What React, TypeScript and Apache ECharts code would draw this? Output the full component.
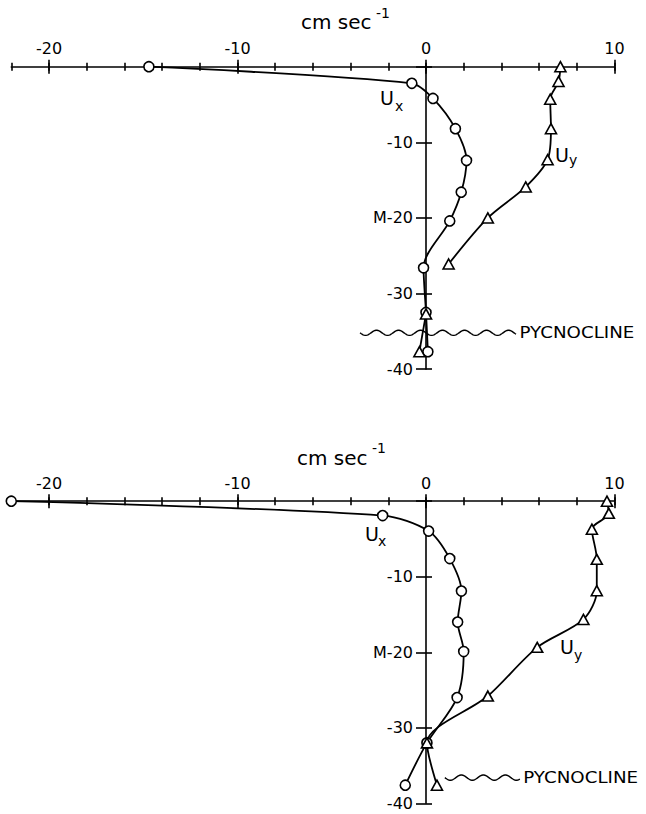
import React, { useEffect, useRef } from "react";
import * as echarts from "echarts";

// ---- data (x = velocity in cm/sec, y = depth in m) ----
const xMin = -22;
const xMax = 10;
const depthMin = -40;
const depthMax = 0;
const xMajorTicks = [-20, -10, 0, 10];

const topUx = [
  [-14.7, 0], [-0.75, -2.2], [0.37, -4.2], [1.56, -8.2], [2.15, -12.4],
  [1.87, -16.6], [1.26, -20.4], [-0.13, -26.6], [0.0, -32.5], [0.1, -37.7],
];
const topUy = [
  [7.13, 0], [7.03, -1.95], [6.59, -4.3], [6.63, -8.2], [6.45, -12.3],
  [5.29, -15.9], [3.28, -20.0], [1.2, -26.1],
];
const topUyDeep = [[0.0, -32.7], [-0.35, -37.7]];
const bottomUx = [
  [-22.0, 0], [-2.3, -1.9], [0.14, -3.95], [1.26, -7.6], [1.88, -11.9],
  [1.68, -16.0], [2.0, -19.9], [1.65, -26.0], [0.05, -32.0], [-1.1, -37.6],
];
const bottomUy = [
  [9.6, 0], [9.7, -1.6], [8.8, -3.7], [9.06, -7.7], [9.06, -11.85],
  [8.35, -15.65], [5.9, -19.35], [3.28, -25.8], [0.05, -32.0], [0.58, -37.6],
];
// [x start, x end, depth]
const topPycnocline = [[-3.5, 4.8, -35.2]];
const bottomPycnocline = [[1.0, 5.0, -36.6]];

const FONT = "DejaVu Sans";
const BLACK = "#000";

const GRID_LEFT = 11.3;
const GRID_WIDTH = 603.2;
// pixel distance from grid's left edge to the x = 0 line (where the depth axis sits)
const ZERO_OFFSET = ((0 - xMin) / (xMax - xMin)) * GRID_WIDTH;

function xAxesFor(gridIndex: number) {
  const base: any = {
    type: "value",
    gridIndex,
    min: xMin,
    max: xMax,
    interval: 2,
    position: "top",
    splitLine: { show: false },
  };
  const line = { color: BLACK, width: 1.6 };
  return [
    {
      ...base,
      axisLine: { show: true, onZero: false, lineStyle: line },
      axisTick: { show: true, inside: false, length: 4, lineStyle: line },
      axisLabel: { show: false },
    },
    {
      ...base,
      axisLine: { show: false, onZero: false },
      axisTick: { show: true, inside: true, length: 4, lineStyle: line },
      axisLabel: { show: false },
    },
    {
      ...base,
      axisLine: { show: false, onZero: false },
      axisTick: { show: true, inside: false, length: 7, customValues: xMajorTicks, lineStyle: line },
      axisLabel: {
        show: true,
        customValues: xMajorTicks,
        margin: 10,
        color: BLACK,
        fontFamily: FONT,
        fontSize: 16,
        formatter: (v: number) => (v < 0 ? "-" + Math.abs(v) : String(v)),
      },
    },
    {
      ...base,
      axisLine: { show: false, onZero: false },
      axisTick: { show: true, inside: true, length: 7, customValues: xMajorTicks, lineStyle: line },
      axisLabel: { show: false },
    },
  ];
}

function yAxesFor(gridIndex: number) {
  const base: any = {
    type: "value",
    gridIndex,
    min: depthMin,
    max: depthMax,
    interval: 10,
    position: "left",
    offset: -ZERO_OFFSET,
    splitLine: { show: false },
  };
  const line = { color: BLACK, width: 1.6 };
  return [
    {
      ...base,
      axisLine: { show: true, onZero: false, lineStyle: line },
      axisTick: { show: true, inside: false, length: 10, lineStyle: line },
      axisLabel: {
        show: true,
        margin: 13,
        color: BLACK,
        fontFamily: FONT,
        fontSize: 16,
        formatter: (v: number) =>
          v === 0 ? "" : v === -20 ? "M-20" : "-" + Math.abs(v),
      },
    },
    {
      ...base,
      axisLine: { show: false, onZero: false },
      axisTick: { show: true, inside: true, length: 6, lineStyle: line },
      axisLabel: { show: false },
    },
  ];
}

function lineSeries(data: number[][], xi: number, yi: number, symbol: string, size: any) {
  return {
    type: "line",
    xAxisIndex: xi,
    yAxisIndex: yi,
    data,
    smooth: 0.3,
    symbol,
    symbolSize: size,
    showAllSymbol: true,
    clip: false,
    lineStyle: { color: BLACK, width: 1.8 },
    itemStyle: { color: "#fff", borderColor: BLACK, borderWidth: 1.6 },
    z: 3,
  };
}

function pycnoclineSeries(data: number[][], xi: number, yi: number) {
  return {
    type: "custom",
    xAxisIndex: xi,
    yAxisIndex: yi,
    data,
    encode: { x: [0, 1], y: 2 },
    z: 2,
    renderItem: (_params: any, api: any) => {
      const p0 = api.coord([api.value(0), api.value(2)]);
      const p1 = api.coord([api.value(1), api.value(2)]);
      const pts: number[][] = [];
      const lambda = 22;
      const amp = 2.6;
      for (let x = p0[0]; x <= p1[0]; x += 1) {
        pts.push([x, p0[1] + amp * Math.sin((2 * Math.PI * (x - p0[0])) / lambda)]);
      }
      return {
        type: "group",
        children: [
          {
            type: "polyline",
            shape: { points: pts },
            style: { stroke: BLACK, fill: null, lineWidth: 1.4 },
          },
          {
            type: "text",
            x: p1[0] + 3,
            y: p0[1],
            scaleX: 1.14,
            style: {
              text: "PYCNOCLINE",
              fill: BLACK,
              font: `16px "${FONT}"`,
              align: "left",
              verticalAlign: "middle",
            },
          },
        ],
      };
    },
  };
}

function txt(text: string, x: number, y: number, size: number) {
  return {
    type: "text",
    x,
    y,
    style: {
      text,
      fill: BLACK,
      font: `${size}px "${FONT}"`,
      align: "left",
      verticalAlign: "middle",
    },
  };
}

export default function App() {
  const ref = useRef<HTMLDivElement>(null);
  useEffect(() => {
    if (!ref.current) return;
    const chart = echarts.init(ref.current, null, { renderer: "svg" });
    chart.setOption({
      animation: false,
      backgroundColor: "#fff",
      grid: [
        { left: GRID_LEFT, top: 66.7, width: GRID_WIDTH, height: 302.4, outerBoundsMode: "none", containLabel: false },
        { left: GRID_LEFT, top: 501.2, width: GRID_WIDTH, height: 302.1, outerBoundsMode: "none", containLabel: false },
      ],
      xAxis: [...xAxesFor(0), ...xAxesFor(1)],
      yAxis: [...yAxesFor(0), ...yAxesFor(1)],
      series: [
        pycnoclineSeries(topPycnocline, 0, 0),
        pycnoclineSeries(bottomPycnocline, 4, 2),
        lineSeries(topUx, 0, 0, "circle", 10),
        lineSeries(topUy, 0, 0, "triangle", [11, 10]),
        lineSeries(topUyDeep, 0, 0, "triangle", [11, 10]),
        lineSeries(bottomUx, 4, 2, "circle", 10),
        lineSeries(bottomUy, 4, 2, "triangle", [11, 10]),
      ],
      graphic: [
        txt("cm sec", 301, 21.5, 20),
        txt("-1", 376, 12.5, 14),
        txt("cm sec", 297, 458.4, 20),
        txt("-1", 372, 448, 14),
        txt("U", 380, 97.5, 19),
        txt("x", 395, 106, 14),
        txt("U", 555, 154.5, 19),
        txt("y", 569, 160, 14),
        txt("U", 365, 533.5, 19),
        txt("x", 378, 541, 14),
        txt("U", 560, 647, 19),
        txt("y", 574, 655, 14),
      ],
    });
    return () => chart.dispose();
  }, []);
  return (
    <div
      ref={ref}
      style={{ position: "fixed", left: 0, top: 0, width: 646, height: 814, background: "#fff" }}
    />
  );
}
